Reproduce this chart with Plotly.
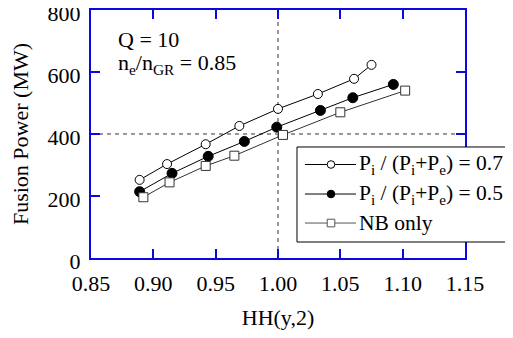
import plotly.graph_objects as go

x_07 = [0.889, 0.911, 0.942, 0.969, 1.000, 1.032, 1.061, 1.075]
y_07 = [252, 303, 367, 426, 481, 529, 578, 623]
x_05 = [0.889, 0.915, 0.944, 0.973, 0.999, 1.034, 1.060, 1.0925]
y_05 = [214, 273, 328, 376, 422, 476, 517, 560]
x_nb = [0.892, 0.913, 0.942, 0.965, 1.004, 1.050, 1.102]
y_nb = [196, 244, 297, 330, 397, 470, 540]

x_ticks = [0.85, 0.90, 0.95, 1.00, 1.05, 1.10, 1.15]
x_tick_labels = ["0.85", "0.90", "0.95", "1.00", "1.05", "1.10", "1.15"]
y_ticks = [0, 200, 400, 600, 800]

series_names = ["P<sub>i</sub> / (P<sub>i</sub>+P<sub>e</sub>) = 0.7",
                "P<sub>i</sub> / (P<sub>i</sub>+P<sub>e</sub>) = 0.5",
                "NB only"]

FONT = "Liberation Serif, Times New Roman, Times, serif"
AX = "#0a0ae0"
FS = 22

fig = go.Figure()
fig.add_trace(go.Scatter(x=x_07, y=y_07, mode="lines+markers", name=series_names[0],
                         line=dict(color="black", width=1),
                         marker=dict(symbol="circle", size=9, color="white",
                                     line=dict(color="black", width=1))))
fig.add_trace(go.Scatter(x=x_05, y=y_05, mode="lines+markers", name=series_names[1],
                         line=dict(color="black", width=1),
                         marker=dict(symbol="circle", size=10, color="black",
                                     line=dict(color="black", width=1))))
fig.add_trace(go.Scatter(x=x_nb, y=y_nb, mode="lines+markers", name=series_names[2],
                         line=dict(color="#333333", width=1),
                         marker=dict(symbol="square", size=9, color="white",
                                     line=dict(color="#333333", width=1))))

fig.add_shape(type="line", x0=1.0, x1=1.0, y0=0, y1=800, xref="x", yref="y",
              line=dict(color="#333333", width=1, dash="4px,4px"), layer="below")
fig.add_shape(type="line", x0=0.85, x1=1.15, y0=400, y1=400, xref="x", yref="y",
              line=dict(color="#777777", width=1.3, dash="4px,4px"), layer="below")

fig.add_annotation(x=0.0668, y=0.883, xref="paper", yref="paper", xanchor="left", yanchor="middle",
                   showarrow=False, text="Q = 10",
                   font=dict(family=FONT, size=FS, color="black"))
fig.add_annotation(x=0.0668, y=0.782, xref="paper", yref="paper", xanchor="left", yanchor="middle",
                   showarrow=False, text="n<sub>e</sub>/n<sub>GR</sub> = 0.85",
                   font=dict(family=FONT, size=FS, color="black"))

# manual legend (paper coordinates relative to the plot area)
lg_left, lg_right, lg_top, lg_bot = 0.5508, 1.16, 0.4476, 0.0645
row_y = [0.377, 0.258, 0.141]
sym_x0, sym_x1, sym_xc, txt_x = 0.572, 0.7086, 0.6417, 0.7125
fig.add_shape(type="rect", xref="paper", yref="paper", x0=lg_left, x1=lg_right,
              y0=lg_bot, y1=lg_top, line=dict(color="black", width=1), fillcolor="white",
              layer="above")
sym_fill = ["white", "black", "white"]
sym_line = ["black", "black", "#555555"]
sym_type = ["circle", "circle", "rect"]
for i in range(3):
    fig.add_shape(type="line", xref="paper", yref="paper", x0=sym_x0, x1=sym_x1,
                  y0=row_y[i], y1=row_y[i], line=dict(color=sym_line[i], width=1), layer="above")
    r = 3.8
    fig.add_shape(type=sym_type[i], xref="paper", yref="paper", xsizemode="pixel",
                  ysizemode="pixel", xanchor=sym_xc, yanchor=row_y[i],
                  x0=-r, x1=r, y0=-r, y1=r, fillcolor=sym_fill[i],
                  line=dict(color=sym_line[i], width=1), layer="above")
    fig.add_annotation(x=txt_x, y=row_y[i], xref="paper", yref="paper", xanchor="left",
                       yanchor="middle", showarrow=False, text=series_names[i],
                       font=dict(family=FONT, size=21.5, color="black"))

fig.update_xaxes(range=[0.85, 1.15], tickvals=x_ticks, ticktext=x_tick_labels,
                 showline=True, linecolor=AX, linewidth=2, mirror="allticks",
                 ticks="inside", ticklen=9, tickcolor=AX, tickwidth=1.5,
                 showgrid=False, zeroline=False, automargin=False, ticklabelstandoff=5,
                 ticklabeloverflow="allow",
                 tickfont=dict(family=FONT, size=FS, color="black"),
                 title=dict(text="HH(y,2)", font=dict(family=FONT, size=FS, color="black"),
                            standoff=14))
fig.update_yaxes(range=[0, 800], tickvals=y_ticks,
                 showline=True, linecolor=AX, linewidth=2, mirror="allticks",
                 ticks="inside", ticklen=9, tickcolor=AX, tickwidth=1.5,
                 showgrid=False, zeroline=False, automargin=False, ticklabelstandoff=4,
                 ticklabelshift=3, ticklabeloverflow="allow",
                 tickfont=dict(family=FONT, size=FS, color="black"),
                 title=dict(text="Fusion Power (MW)", font=dict(family=FONT, size=FS, color="black"),
                            standoff=16))

fig.update_layout(width=513, height=338, margin=dict(l=83, r=56, t=2, b=88),
                  plot_bgcolor="white", paper_bgcolor="white", showlegend=False,
                  font=dict(family=FONT, size=FS, color="black"))

fig.write_html("out.html")
